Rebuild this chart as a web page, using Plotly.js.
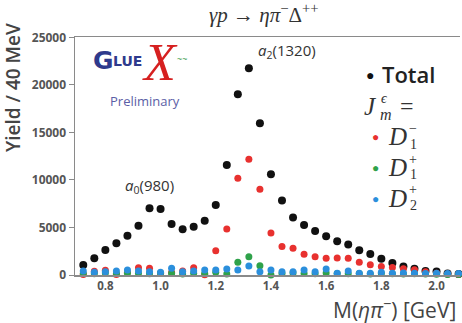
<!DOCTYPE html>
<html><head><meta charset="utf-8">
<script src="https://cdn.plot.ly/plotly-3.0.1.min.js"></script>
<style>body{margin:0;background:#fff}#c{width:462px;height:323px}</style>
</head><body><div id="c"></div>
<script>
const mass = [0.72,0.76,0.80,0.84,0.88,0.92,0.96,1.00,1.04,1.08,1.12,1.16,1.20,1.24,1.28,1.32,1.36,1.40,1.44,1.48,1.52,1.56,1.60,1.64,1.68,1.72,1.76,1.80,1.84,1.88,1.92,1.96,2.00,2.04,2.08];
const total = [1050,1750,2630,3330,4140,5190,7020,6950,5370,4810,5090,5720,7370,11580,19020,21760,15960,10600,7850,6040,5260,4620,4080,3550,3200,2600,2200,1720,1250,900,650,430,380,150,100];
const d1minus = [50,400,500,50,300,770,700,180,250,420,770,30,2560,4840,10180,12180,9020,4420,3000,2810,2180,1930,1750,1800,1750,1330,1080,900,780,650,560,350,180,100,50];
const d1plus = [150,120,200,150,180,150,120,200,150,100,180,150,300,100,1330,1930,980,0,150,200,150,120,200,150,120,150,100,150,120,100,120,100,80,60,50];
const d2plus = [420,280,350,420,530,420,350,280,700,350,420,530,530,630,530,950,350,530,350,350,530,350,620,180,420,180,180,300,180,200,180,150,180,150,150];
const xTicks = [0.8,1.0,1.2,1.4,1.6,1.8,2.0];
const xTickText = ["0.8","1.0","1.2","1.4","1.6","1.8","2.0"];
const yTicks = [0,5000,10000,15000,20000,25000];
const yTickText = ["0","5000","10000","15000","20000","25000"];

const L=75,R=460,T=37,B=275;
function px(x){return (x-L)/(R-L);}
function py(y){return (B-y)/(B-T);}

function tr(y,color,size,name){
  return {x:mass,y:y,type:'scatter',mode:'markers',name:name,cliponaxis:false,
    marker:{color:color,size:size,line:{width:0}},showlegend:false,hoverinfo:'skip'};
}
const data=[
  tr(total,'#111111',8,'Total'),
  tr(d1minus,'#e8312f',7,'D1-'),
  tr(d1plus,'#2fa24a',7,'D1+'),
  tr(d2plus,'#2b8fdc',7,'D2+')
];
const lserif='Liberation Serif, DejaVu Serif, serif';
const sans='Open Sans, Liberation Sans, sans-serif';
function ann(x,y,text,o){return Object.assign({xref:'paper',yref:'paper',x:px(x),y:py(y),text:text,showarrow:false,xanchor:'center',yanchor:'middle',font:{family:sans,size:13,color:'#333'}},o||{});}
function dEntry(y,color,sup,sub){
  return [
    ann(375,y,'●',{font:{family:sans,size:12,color:color}}),
    ann(397,y,'<i>D</i>',{font:{family:lserif,size:25,color:'#333'}}),
    ann(413,y-8,sup,{font:{family:lserif,size:14,color:'#333'}}),
    ann(413,y+8,sub,{font:{family:lserif,size:14,color:'#333'}})
  ];
}
const anns=[
  ann(264,14,'<i>γp</i> → <i>ηπ</i><sup>−</sup>Δ<sup>++</sup>',{font:{family:lserif,size:21,color:'#333'}}),
  ann(13,88,'Yield / 40 MeV',{textangle:-90,font:{family:sans,size:19,color:'#444',weight:600}}),
  ann(458,308,'M(<i>ηπ</i><sup>−</sup>) [GeV]',{xanchor:'right',font:{family:sans,size:21,color:'#444',weight:500}}),
  ann(149,186,'<i>a</i><sub>0</sub>(980)',{font:{family:sans,size:15,color:'#333'}}),
  ann(287,51,'<i>a</i><sub>2</sub>(1320)',{font:{family:sans,size:15,color:'#333'}}),
  // legend
  ann(370,74,'●',{font:{family:sans,size:14,color:'#111'}}),
  ann(380,74,'Total',{xanchor:'left',font:{family:sans,size:22,color:'#222',weight:600}}),
  ann(370,107,'<i>J</i>',{font:{family:lserif,size:25,color:'#333'}}),
  ann(384,98,'<i>ϵ</i>',{font:{family:lserif,size:14,color:'#333'}}),
  ann(386,115,'<i>m</i>',{font:{family:lserif,size:16,color:'#333'}}),
  ann(407,106,'=',{font:{family:lserif,size:24,color:'#333'}}),
  ...dEntry(136,'#e8312f','−','1'),
  ...dEntry(167,'#2fa24a','+','1'),
  ...dEntry(198,'#2b8fdc','+','2'),
  // logo
  ann(103,60,'G',{font:{family:'DejaVu Sans, sans-serif',size:25,color:'#2e3a8c',weight:700}}),
  ann(127,61,'LUE',{font:{family:'DejaVu Sans, sans-serif',size:14,color:'#2e3a8c',weight:700}}),
  ann(160,63,'<i>X</i>',{font:{family:lserif,size:52,color:'#d62020'}}),
  ann(182,58,'~~',{font:{family:sans,size:9,color:'#3a9a4a'}}),
  ann(145,101,'Preliminary',{font:{family:sans,size:13,color:'#5b5ea6'}})
];
const layout={
  width:462,height:323,margin:{l:L,r:462-R,t:T,b:323-B},
  paper_bgcolor:'#fff',plot_bgcolor:'#fff',
  xaxis:{range:[0.69,2.085],tickvals:xTicks,ticktext:xTickText,showgrid:false,zeroline:false,
    showline:true,linecolor:'#8a8a8a',linewidth:1.5,mirror:true,ticks:'',
    tickfont:{family:sans,size:11.5,color:'#555',weight:700}},
  yaxis:{range:[0,25050],tickvals:yTicks,ticktext:yTickText,showgrid:false,zeroline:false,
    showline:true,linecolor:'#8a8a8a',linewidth:1.5,ticks:'outside',ticklen:5,tickcolor:'#8a8a8a',
    tickfont:{family:sans,size:12,color:'#555',weight:700}},
  annotations:anns
};
Plotly.newPlot('c',data,layout,{staticPlot:true,displayModeBar:false});
</script></body></html>
